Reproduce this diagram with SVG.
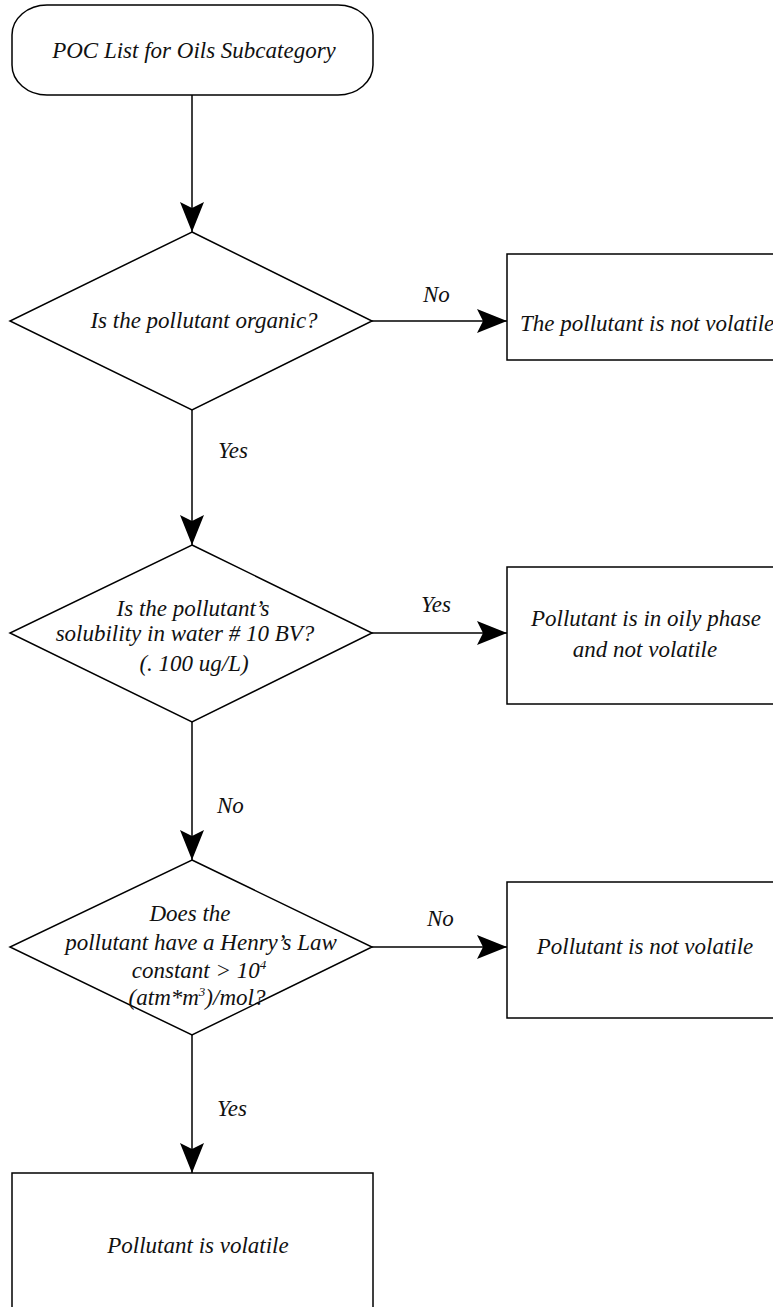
<svg xmlns="http://www.w3.org/2000/svg" width="773" height="1307" viewBox="0 0 773 1307">
<style>
.shape{fill:#fff;stroke:#000;stroke-width:1.5}
.c{fill:none;stroke:#000;stroke-width:1.5}
text{font-family:"Liberation Serif","Times New Roman",serif;font-style:italic;font-size:23px;fill:#111}
.m{text-anchor:middle}
.sup{font-size:13px}
</style>
<defs>
<marker id="ah" viewBox="0 0 30 24" refX="30" refY="12" markerWidth="30" markerHeight="24" markerUnits="userSpaceOnUse" orient="auto">
<path d="M0,0 L30,12 L0,24 L6,12 Z" fill="#000"/>
</marker>
</defs>
<rect width="773" height="1307" fill="#fff"/>
<g id="connectors">
<line class="c" x1="192" y1="95" x2="192" y2="232" marker-end="url(#ah)"/>
<line class="c" x1="372" y1="321" x2="507" y2="321" marker-end="url(#ah)"/>
<line class="c" x1="192" y1="410" x2="192" y2="545" marker-end="url(#ah)"/>
<line class="c" x1="372" y1="633" x2="507" y2="633" marker-end="url(#ah)"/>
<line class="c" x1="192" y1="722" x2="192" y2="860" marker-end="url(#ah)"/>
<line class="c" x1="372" y1="947" x2="507" y2="947" marker-end="url(#ah)"/>
<line class="c" x1="192" y1="1035" x2="192" y2="1173" marker-end="url(#ah)"/>
<text x="423" y="302">No</text>
<text x="218" y="458">Yes</text>
<text x="421" y="612">Yes</text>
<text x="217" y="813">No</text>
<text x="427" y="926">No</text>
<text x="217" y="1116">Yes</text>
</g>
<g id="start">
<rect class="shape" x="12" y="5" width="361" height="90" rx="35" ry="30"/>
<text class="m" x="194" y="58">POC List for Oils Subcategory</text>
</g>
<g id="q1">
<polygon class="shape" points="192,232 372,321 192,410 10,321"/>
<text class="m" x="204" y="328">Is the pollutant organic?</text>
</g>
<g id="notvol1">
<rect class="shape" x="507" y="254" width="280" height="106"/>
<text x="520" y="331">The pollutant is not volatile</text>
</g>
<g id="q2">
<polygon class="shape" points="192,545 372,633 192,722 10,633"/>
<text class="m" x="193" y="616">Is the pollutant’s</text>
<text class="m" x="185" y="641">solubility in water # 10 BV?</text>
<text class="m" x="194" y="671">(. 100 ug/L)</text>
</g>
<g id="oily">
<rect class="shape" x="507" y="567" width="280" height="137"/>
<text class="m" x="646" y="626">Pollutant is in oily phase</text>
<text class="m" x="645" y="657">and not volatile</text>
</g>
<g id="q3">
<polygon class="shape" points="192,860 372,947 192,1035 10,947"/>
<text class="m" x="190" y="921">Does the</text>
<text class="m" x="201" y="950">pollutant have a Henry’s Law</text>
<text class="m" x="199" y="978">constant &gt; 10<tspan class="sup" dy="-9">4</tspan></text>
<text class="m" x="197" y="1005">(atm*m<tspan class="sup" dy="-9">3</tspan><tspan dy="9">)/mol?</tspan></text>
</g>
<g id="notvol2">
<rect class="shape" x="507" y="882" width="280" height="136"/>
<text class="m" x="645" y="954">Pollutant is not volatile</text>
</g>
<g id="vol">
<rect class="shape" x="12" y="1173" width="361" height="150"/>
<text class="m" x="198" y="1253">Pollutant is volatile</text>
</g>
</svg>
